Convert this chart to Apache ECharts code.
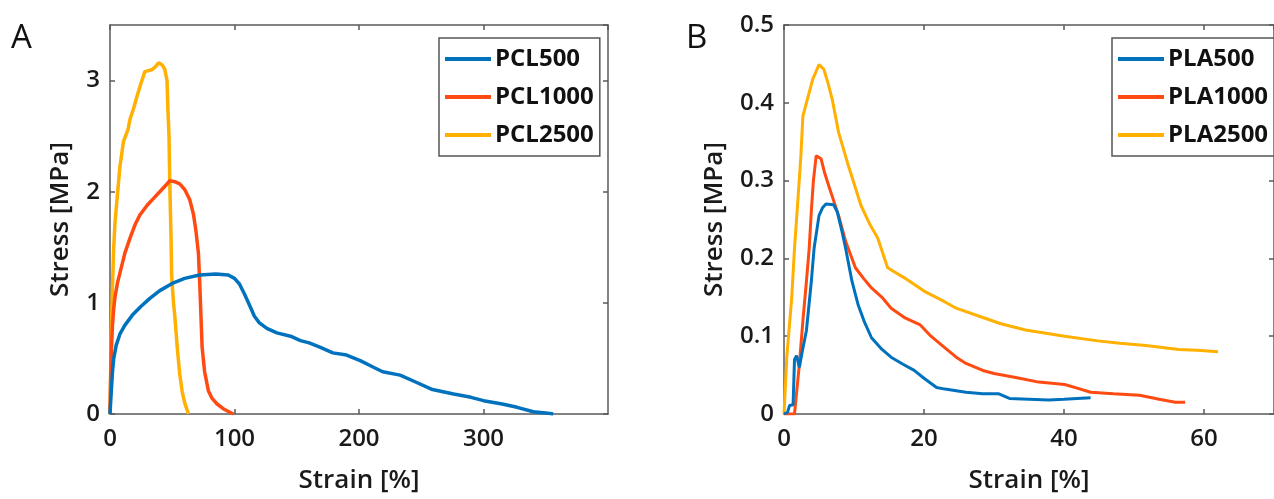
<!DOCTYPE html>
<html>
<head>
<meta charset="utf-8">
<script src="https://cdn.jsdelivr.net/npm/echarts@6/dist/echarts.min.js"></script>
<style>
html,body{margin:0;padding:0;background:#fff;}
#c{width:1274px;height:499px;}
</style>
</head>
<body>
<div id="c"></div>
<script>
// ---------- DATA ----------
const pclNames = ['PCL500', 'PCL1000', 'PCL2500'];
const plaNames = ['PLA500', 'PLA1000', 'PLA2500'];
const panelLetters = ['A', 'B'];
const xTitle = 'Strain [%]';
const yTitle = 'Stress [MPa]';

const pcl500 = [[0,0],[1,0.2],[2,0.38],[3,0.5],[5,0.62],[8,0.72],[12,0.8],[18,0.89],[25,0.97],[32,1.04],[40,1.11],[51,1.18],[60,1.22],[72,1.25],[85,1.26],[95,1.25],[100,1.22],[104,1.17],[108,1.08],[112,0.98],[116,0.88],[120,0.82],[126,0.77],[134,0.73],[145,0.7],[153,0.66],[160,0.64],[169,0.6],[179,0.55],[190,0.53],[201,0.48],[210,0.43],[219,0.38],[233,0.35],[245,0.29],[259,0.22],[276,0.18],[290,0.15],[300,0.12],[315,0.09],[327,0.06],[340,0.02],[350,0.01],[356,0]];
const pcl1000 = [[0,0],[0.5,0.3],[1,0.55],[2,0.8],[3,0.95],[4,1.05],[6,1.18],[8,1.27],[12,1.45],[16,1.58],[20,1.7],[24,1.79],[30,1.88],[35,1.94],[40,2.0],[45,2.06],[48,2.1],[52,2.09],[56,2.07],[60,2.02],[64,1.93],[67,1.8],[69,1.65],[71,1.45],[72,1.2],[73,0.9],[74,0.6],[76,0.38],[79,0.21],[82,0.14],[86,0.09],[92,0.04],[99,0]];
const pcl2500 = [[0,0],[0.5,0.35],[1,0.7],[2,1.15],[3,1.5],[4,1.72],[5.4,1.9],[8,2.23],[10.8,2.45],[14.5,2.56],[16,2.65],[18.7,2.74],[22,2.87],[25,2.98],[28,3.08],[31,3.09],[34,3.1],[37,3.13],[39,3.16],[42,3.14],[44,3.1],[45.8,3.0],[46.5,2.75],[47.4,2.5],[48,2.09],[49,1.6],[49.5,1.25],[51,1.0],[52,0.89],[54,0.6],[56,0.36],[58,0.2],[60,0.1],[63,0]];

const pla500 = [[0,0],[0.5,0.002],[0.8,0.011],[1.3,0.012],[1.5,0.07],[1.8,0.075],[2.2,0.06],[2.6,0.08],[3.2,0.107],[3.9,0.17],[4.3,0.213],[5.0,0.255],[5.5,0.265],[6.0,0.27],[7.1,0.269],[7.6,0.26],[8.3,0.234],[8.8,0.213],[9.7,0.171],[10.6,0.14],[11.5,0.118],[12.5,0.098],[14,0.083],[15.3,0.073],[17,0.064],[18.6,0.056],[20,0.046],[21.8,0.034],[23,0.032],[24.6,0.03],[26,0.028],[28.4,0.026],[30.7,0.026],[32.2,0.02],[35,0.019],[37.8,0.018],[40,0.019],[43.8,0.021]];
const pla1000 = [[0,0],[1.5,0],[2.2,0.064],[2.7,0.12],[3.2,0.17],[3.6,0.213],[3.9,0.26],[4.2,0.3],[4.6,0.332],[5.3,0.328],[5.8,0.31],[6.4,0.293],[7.8,0.255],[8.8,0.222],[10.2,0.188],[11.3,0.175],[12.5,0.162],[14,0.15],[15.3,0.136],[17.2,0.124],[19.4,0.115],[21,0.1],[21.8,0.094],[23,0.085],[24.6,0.073],[26,0.065],[28.4,0.056],[30,0.052],[33.1,0.047],[36.4,0.041],[40.1,0.038],[42,0.033],[43.8,0.028],[47.1,0.026],[50.8,0.024],[53.6,0.019],[55.9,0.015],[57.3,0.015]];
const pla2500 = [[0,0],[0.4,0.073],[1.1,0.149],[1.5,0.213],[2.0,0.277],[2.4,0.33],[2.7,0.383],[3.2,0.4],[4.1,0.43],[5.0,0.449],[5.7,0.443],[6.3,0.425],[6.9,0.404],[7.8,0.362],[9.2,0.319],[11.0,0.268],[12.2,0.245],[13.4,0.226],[14.8,0.188],[17.2,0.175],[20,0.158],[22.8,0.145],[24.6,0.136],[28.4,0.124],[31,0.116],[34.5,0.108],[40.1,0.1],[44.8,0.094],[48,0.091],[51.7,0.088],[56.4,0.083],[59,0.082],[62,0.08]];

const colors = ['#0072BD', '#FF4A12', '#FFB000'];

// ---------- CHART ----------
const FONT = '"Open Sans", "Noto Sans", sans-serif';
const frame = '#5a5a5a';
const chart = echarts.init(document.getElementById('c'), null, {renderer: 'canvas'});

function xAx(grid, max, interval, withLabels) {
  return {
    type: 'value', gridIndex: grid, min: 0, max: max, interval: interval,
    position: withLabels ? 'bottom' : 'top',
    name: withLabels ? xTitle : '', nameLocation: 'middle', nameGap: 54,
    nameTextStyle: {fontFamily: FONT, fontSize: 26, fontWeight: 600, color: '#1a1a1a'},
    axisLine: {show: true, onZero: false, lineStyle: {color: frame, width: 1.5}},
    axisTick: {show: true, inside: true, length: 5, lineStyle: {color: frame, width: 1.5}},
    axisLabel: {show: withLabels, showMaxLabel: false, margin: 13, fontFamily: FONT, fontSize: 24, fontWeight: 600, color: '#1a1a1a'},
    splitLine: {show: false}
  };
}
function yAx(grid, max, interval, withLabels, gap, maxLabel) {
  return {
    type: 'value', gridIndex: grid, min: 0, max: max, interval: interval,
    position: withLabels ? 'left' : 'right',
    name: withLabels ? yTitle : '', nameLocation: 'middle', nameGap: gap, nameRotate: 90,
    nameTextStyle: {fontFamily: FONT, fontSize: 26, fontWeight: 600, color: '#1a1a1a'},
    axisLine: {show: true, onZero: false, lineStyle: {color: frame, width: 1.5}},
    axisTick: {show: true, inside: true, length: 5, lineStyle: {color: frame, width: 1.5}},
    axisLabel: {show: withLabels, showMaxLabel: maxLabel, margin: 10, fontFamily: FONT, fontSize: 24, fontWeight: 600, color: '#1a1a1a'},
    splitLine: {show: false}
  };
}
function line(name, data, idx, xi, yi, w) {
  return {
    name: name, type: 'line', data: data, xAxisIndex: xi, yAxisIndex: yi,
    showSymbol: false, symbol: 'none', smooth: false,
    lineStyle: {color: colors[idx], width: w}, itemStyle: {color: colors[idx]},
    clip: true, z: 3 - idx
  };
}
function legend(names, left) {
  return {
    data: names, orient: 'vertical', left: left, top: 38,
    icon: 'rect', itemWidth: 46, itemHeight: 4, itemGap: 10,
    padding: [7, 6, 7, 6], borderColor: '#555', borderWidth: 1.5, backgroundColor: '#fff',
    textStyle: {fontFamily: FONT, fontSize: 24, fontWeight: 700, color: '#111', lineHeight: 28, padding: [0, 0, 0, -1]},
    selectedMode: false
  };
}

chart.setOption({
  animation: false,
  backgroundColor: '#fff',
  grid: [
    {left: 110, top: 25, width: 498, height: 392},
    {left: 784, top: 25, width: 500, height: 392}
  ],
  xAxis: [xAx(0, 400, 100, true), xAx(0, 400, 100, false), xAx(1, 70, 20, true), xAx(1, 70, 20, false)],
  yAxis: [yAx(0, 3.5, 1, true, 36, false), yAx(0, 3.5, 1, false, 0, false), yAx(1, 0.5, 0.1, true, 56, true), yAx(1, 0.5, 0.1, false, 0, true)],
  legend: [legend(pclNames, 439), legend(plaNames, 1112)],
  graphic: [
    {type: 'text', left: 11, top: 22, style: {text: panelLetters[0], font: '400 33px ' + FONT, fill: '#111'}},
    {type: 'text', left: 686, top: 22, style: {text: panelLetters[1], font: '400 33px ' + FONT, fill: '#111'}}
  ],
  series: [
    line(pclNames[0], pcl500, 0, 0, 0, 3.5),
    line(pclNames[1], pcl1000, 1, 0, 0, 3.5),
    line(pclNames[2], pcl2500, 2, 0, 0, 3.5),
    line(plaNames[0], pla500, 0, 2, 2, 3),
    line(plaNames[1], pla1000, 1, 2, 2, 3),
    line(plaNames[2], pla2500, 2, 2, 2, 3)
  ]
});
</script>
</body>
</html>
